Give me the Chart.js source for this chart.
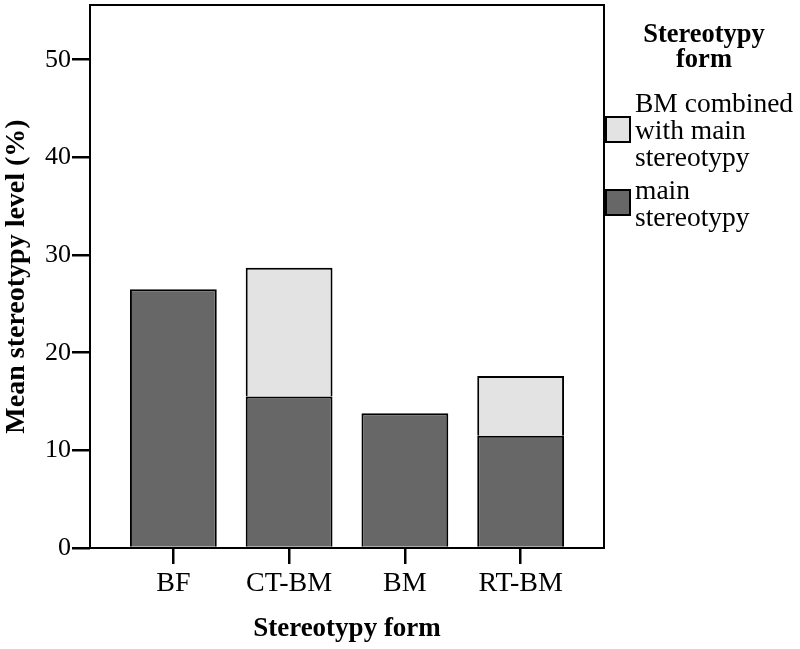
<!DOCTYPE html>
<html>
<head>
<meta charset="utf-8">
<script src="https://cdn.jsdelivr.net/npm/chart.js@4/dist/chart.umd.min.js"></script>
<style>
  html, body { margin: 0; padding: 0; background: #fff; }
  #wrap { width: 800px; height: 649px; }
</style>
</head>
<body>
<div id="wrap"><canvas id="chart" width="800" height="649"></canvas></div>
<script>
const categories = ["BF", "CT-BM", "BM", "RT-BM"];
const mainValues = [26.5, 15.5, 13.8, 11.5];
const combinedValues = [null, 13.2, null, 6.1];
const yTicks = [0, 10, 20, 30, 40, 50];
const legendTitle = ["Stereotypy", "form"];
const legendItems = [
  { lines: ["BM combined", "with main", "stereotypy"], color: "#e3e3e3" },
  { lines: ["main", "stereotypy"], color: "#676767" },
];

const SERIF = "'Liberation Serif', 'Times New Roman', serif";

const framePlugin = {
  id: "frame",
  afterDraw(chart) {
    const { ctx, chartArea: a } = chart;
    ctx.save();
    ctx.strokeStyle = "#000";
    ctx.lineWidth = 2;
    ctx.strokeRect(a.left, a.top, a.right - a.left, a.bottom - a.top);

    // legend
    ctx.fillStyle = "#000";
    ctx.textAlign = "center";
    ctx.textBaseline = "alphabetic";
    ctx.font = "bold 26.5px " + SERIF;
    ctx.fillText(legendTitle[0], 704, 42);
    ctx.fillText(legendTitle[1], 704, 67);

    ctx.textAlign = "left";
    ctx.font = "27.5px " + SERIF;
    const base = [[112, 139, 166], [199, 226]];
    const boxY = [117, 190];
    legendItems.forEach((it, i) => {
      ctx.fillStyle = it.color;
      ctx.fillRect(606, boxY[i], 24, 25);
      ctx.lineWidth = 2;
      ctx.strokeStyle = "#000";
      ctx.strokeRect(606, boxY[i], 24, 25);
      ctx.fillStyle = "#000";
      it.lines.forEach((t, j) => ctx.fillText(t, 635, base[i][j]));
    });
    ctx.restore();
  },
};

new Chart(document.getElementById("chart"), {
  type: "bar",
  data: {
    datasets: [
      {
        label: "main stereotypy",
        data: mainValues.map((v, i) => ({ x: i, y: v })),
        backgroundColor: "#676767",
        borderColor: "#000",
        borderWidth: 2,
        borderSkipped: "bottom",
      },
      {
        label: "BM combined with main stereotypy",
        data: combinedValues.map((v, i) => ({ x: i, y: v })),
        backgroundColor: "#e3e3e3",
        borderColor: "#000",
        borderWidth: 2,
        borderSkipped: "bottom",
      },
    ],
  },
  options: {
    responsive: false,
    animation: false,
    devicePixelRatio: 1,
    categoryPercentage: 1,
    barPercentage: 0.75,
    layout: { padding: { left: 0, right: 196, top: 5, bottom: 0 } },
    plugins: { legend: { display: false }, tooltip: { enabled: false } },
    scales: {
      x: {
        type: "linear",
        stacked: true,
        offset: false,
        min: -0.72,
        max: 3.72,
        afterBuildTicks: (s) => { s.ticks = categories.map((_, i) => ({ value: i })); },
        afterFit: (s) => { s.height = 101; s.paddingLeft = 0; s.paddingRight = 0; },
        ticks: {
          callback: (v) => categories[v] ?? "",
          color: "#000",
          font: { family: SERIF, size: 28 },
          padding: 3,
          maxRotation: 0,
          autoSkip: false,
        },
        grid: { offset: false, drawOnChartArea: false, color: "#000", lineWidth: 2.5, tickLength: 16 },
        border: { display: false },
        title: {
          display: true,
          text: "Stereotypy form",
          color: "#000",
          font: { family: SERIF, size: 27, weight: "bold" },
          padding: { top: 4, bottom: 4 },
        },
      },
      y: {
        stacked: true,
        min: 0,
        max: 55.6,
        afterBuildTicks: (s) => { s.ticks = yTicks.map((v) => ({ value: v })); },
        afterFit: (s) => { s.width = 90; s.paddingTop = 0; s.paddingBottom = 0; },
        ticks: {
          color: "#000",
          font: { family: SERIF, size: 26 },
          padding: 1,
        },
        grid: { drawOnChartArea: false, color: "#000", lineWidth: 2.5, tickLength: 18 },
        border: { display: false },
        title: {
          display: true,
          text: "Mean stereotypy level (%)",
          color: "#000",
          font: { family: SERIF, size: 28, weight: "bold" },
          padding: { top: 0, bottom: 0 },
        },
      },
    },
  },
  plugins: [framePlugin],
});
</script>
</body>
</html>
